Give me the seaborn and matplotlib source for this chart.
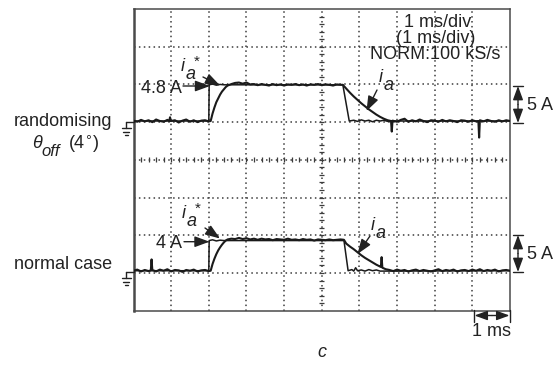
import numpy as np
import pandas as pd
import matplotlib
matplotlib.use("Agg")
import matplotlib.pyplot as plt
from matplotlib.lines import Line2D
import seaborn as sns

W, H = 558, 367

# ---- scope settings ----
AMPS_PER_DIV = 5.0
CH1_ZERO = 5.03      # vertical position of the upper channel's 0 A (divisions)
CH2_ZERO = 1.06      # vertical position of the lower channel's 0 A (divisions)

# ---- upper channel: randomising theta_off (time ms, current A) ----
ch1_ref = [(0.00, 0.00), (2.00, 0.00), (2.01, 4.80), (2.10, 4.90), (2.20, 4.75),
           (2.30, 4.85), (2.40, 4.80), (5.56, 4.80), (5.73, 0.00), (5.85, 0.10),
           (5.95, -0.05), (6.05, 0.15), (6.15, 0.00), (6.25, 0.10), (6.35, -0.10),
           (6.45, 0.10), (6.55, 0.00), (6.65, 0.10), (6.75, -0.05), (6.85, 0.00),
           (10.00, 0.00)]
ch1_ia = [(0.00, 0.05), (0.10, -0.10), (0.20, 0.15), (0.30, -0.05), (0.40, 0.10),
          (0.50, -0.15), (0.60, 0.20), (0.70, 0.00), (0.80, -0.10), (0.90, 0.15),
          (0.95, 0.00), (0.97, 0.50), (0.99, 0.00), (1.10, 0.10), (1.20, -0.20),
          (1.30, 0.05), (1.40, 0.20), (1.50, -0.10), (1.60, 0.10), (1.70, -0.15),
          (1.80, 0.05), (1.90, 0.10), (2.00, -0.05), (2.05, 0.00),
          (2.10, 1.00), (2.15, 1.80), (2.20, 2.50), (2.25, 3.00), (2.30, 3.50),
          (2.35, 3.90), (2.40, 4.20), (2.45, 4.50), (2.50, 4.70), (2.60, 4.90),
          (2.70, 5.05), (2.80, 5.10), (2.90, 4.95), (3.00, 5.10), (3.10, 4.85),
          (3.20, 4.90), (3.30, 4.75), (3.40, 4.90), (3.50, 4.80), (3.60, 4.70),
          (3.70, 4.90), (3.80, 4.75), (3.90, 4.85), (4.00, 4.70), (4.10, 4.85),
          (4.20, 4.80), (4.30, 4.90), (4.40, 4.75), (4.50, 4.85), (4.60, 4.70),
          (4.70, 4.85), (4.80, 4.80), (4.90, 4.90), (5.00, 4.75), (5.10, 4.85),
          (5.20, 4.80), (5.30, 4.70), (5.40, 4.85), (5.50, 4.80), (5.56, 4.80),
          (5.65, 4.30), (5.75, 3.75), (5.85, 3.25), (5.95, 2.80), (6.05, 2.35),
          (6.15, 1.95), (6.25, 1.55), (6.35, 1.20), (6.45, 0.85), (6.55, 0.55),
          (6.65, 0.30), (6.75, 0.10), (6.84, 0.00), (6.86, -1.40), (6.88, 0.05),
          (7.00, -0.10), (7.10, 0.15), (7.20, 0.30), (7.30, -0.10), (7.40, 0.10),
          (7.50, -0.05), (7.60, 0.20), (7.70, 0.00), (7.80, -0.15), (7.90, 0.10),
          (8.00, 0.05), (8.10, -0.10), (8.20, 0.15), (8.30, -0.05), (8.40, 0.10),
          (8.50, 0.00), (8.60, -0.15), (8.70, 0.10), (8.80, 0.05), (8.90, -0.10),
          (9.00, 0.10), (9.10, -0.05), (9.16, 0.00), (9.18, -2.20), (9.20, 0.10),
          (9.30, -0.05), (9.40, 0.15), (9.50, 0.00), (9.60, -0.10), (9.70, 0.10),
          (9.80, -0.05), (9.90, 0.10), (10.00, 0.00)]

# ---- lower channel: normal case ----
ch2_ref = [(0.00, 0.00), (2.00, 0.00), (2.01, 4.00), (2.10, 4.10), (2.20, 3.95),
           (2.30, 4.05), (2.40, 4.00), (5.59, 4.00), (5.70, 0.00), (5.80, 0.15),
           (5.85, -0.05), (5.90, 0.40), (5.95, 0.00), (6.05, 0.10), (6.15, -0.05),
           (6.25, 0.15), (6.35, 0.00), (6.45, 0.10), (6.55, -0.05), (10.00, 0.00)]
ch2_ia = [(0.00, 0.00), (0.10, 0.15), (0.20, -0.10), (0.30, 0.10), (0.40, -0.05),
          (0.46, 0.05), (0.48, 1.50), (0.50, 0.10), (0.60, -0.10), (0.70, 0.15),
          (0.80, 0.00), (0.90, 0.20), (1.00, -0.10), (1.10, 0.10), (1.20, 0.05),
          (1.30, -0.15), (1.40, 0.10), (1.50, 0.00), (1.60, 0.15), (1.70, -0.10),
          (1.80, 0.05), (1.90, 0.10), (2.00, -0.05), (2.05, 0.00),
          (2.10, 0.90), (2.15, 1.60), (2.20, 2.20), (2.25, 2.70), (2.30, 3.10),
          (2.35, 3.45), (2.40, 3.75), (2.45, 4.00), (2.50, 4.15), (2.60, 4.25),
          (2.70, 4.20), (2.80, 4.35), (2.90, 4.20), (3.00, 4.30), (3.10, 4.15),
          (3.20, 4.25), (3.30, 4.10), (3.40, 4.25), (3.50, 4.15), (3.60, 4.20),
          (3.70, 4.05), (3.80, 4.20), (3.90, 4.15), (4.00, 4.10), (4.10, 4.25),
          (4.20, 4.10), (4.30, 4.15), (4.40, 4.05), (4.50, 4.20), (4.60, 4.10),
          (4.70, 4.15), (4.80, 4.00), (4.90, 4.15), (5.00, 4.10), (5.10, 4.05),
          (5.20, 4.15), (5.30, 4.05), (5.40, 4.10), (5.50, 4.15), (5.59, 4.10),
          (5.65, 3.60), (5.75, 3.20), (5.85, 2.85), (5.95, 2.45), (6.05, 2.05),
          (6.15, 1.70), (6.25, 1.40), (6.35, 1.10), (6.45, 0.80), (6.55, 0.55),
          (6.57, 0.50), (6.59, 1.80), (6.61, 0.40), (6.70, 0.20), (6.80, 0.10),
          (6.90, -0.05), (7.00, 0.15), (7.10, 0.00), (7.20, 0.10), (7.30, -0.10),
          (7.40, 0.05), (7.50, 0.15), (7.60, -0.05), (7.70, 0.10), (7.80, 0.00),
          (7.90, -0.10), (8.00, 0.05), (8.10, 0.20), (8.20, -0.05), (8.30, 0.10),
          (8.40, 0.00), (8.50, 0.15), (8.60, -0.10), (8.70, 0.05), (8.80, 0.10),
          (8.90, -0.05), (9.00, 0.15), (9.10, 0.00), (9.20, 0.20), (9.30, -0.05),
          (9.40, 0.10), (9.50, 0.00), (9.60, 0.15), (9.70, -0.10), (9.80, 0.05),
          (9.90, 0.10), (10.00, 0.00)]

# ---- labels ----
row_labels = ["randomising", "normal case"]
level_labels = ["4.8 A", "4 A"]
timebase_lines = ["1 ms/div", "(1 ms/div)", "NORM:100 kS/s"]
scale_label = "5 A"
time_label = "1 ms"
panel_label = "c"

sns.set_theme(style="white")
plt.rcParams["font.family"] = ["Liberation Sans", "DejaVu Sans"]

INK = "#1a1a1a"
TXT = "#222222"
GRID = "#3c3c3c"

fig = plt.figure(figsize=(W / 100, H / 100), dpi=100)
L, R, T, B = 133.5, 510.0, 9.0, 310.7
ax = fig.add_axes([L / W, 1 - B / H, (R - L) / W, (B - T) / H])
ax.set_xlim(0, 10)
ax.set_ylim(0, 8)
ax.set_xticks([])
ax.set_yticks([])
ax.set_facecolor("white")
for side, sp in ax.spines.items():
    sp.set_visible(True)
    sp.set_color("#4a4a4a")
    sp.set_linewidth(1.8 if side == "left" else 1.1)

# graticule
dots = (0, (1.0, 2.2))
for gx in range(1, 10):
    ax.axvline(gx, color=GRID, lw=1.1, ls=dots, zorder=1)
for gy in range(1, 8):
    ax.axhline(gy, color=GRID, lw=1.1, ls=dots, zorder=1)
ax.hlines(np.arange(0.2, 8.0, 0.2), 5 - 0.07, 5 + 0.07, color=GRID, lw=0.9, zorder=1)
ax.vlines(np.arange(0.2, 10.0, 0.2), 4 - 0.07, 4 + 0.07, color=GRID, lw=0.9, zorder=1)


def trace_frame(pairs, zero, name):
    df = pd.DataFrame(pairs, columns=["t_ms", "amps"])
    df["div"] = zero + df["amps"] / AMPS_PER_DIV
    df["trace"] = name
    return df


traces = [
    (trace_frame(ch1_ref, CH1_ZERO, "ch1 ia*"), 1.1),
    (trace_frame(ch1_ia, CH1_ZERO, "ch1 ia"), 1.5),
    (trace_frame(ch2_ref, CH2_ZERO, "ch2 ia*"), 1.1),
    (trace_frame(ch2_ia, CH2_ZERO, "ch2 ia"), 1.5),
]
for df, lw in traces:
    sns.lineplot(data=df, x="t_ms", y="div", estimator=None, sort=False,
                 color=INK, lw=lw, ax=ax, legend=False, zorder=3)
ax.set_xlabel("")
ax.set_ylabel("")


def P(x, y):
    return (x / W, 1 - y / H)


def text(x, y, s, **kw):
    kw.setdefault("color", TXT)
    kw.setdefault("fontsize", 13)
    kw.setdefault("ha", "left")
    kw.setdefault("va", "baseline")
    fig.text(x / W, 1 - y / H, s, **kw)


def arrow(x0, y0, x1, y1, style="-|>,head_length=0.6,head_width=0.22", ms=15):
    ax.annotate("", xy=P(x1, y1), xycoords="figure fraction",
                xytext=P(x0, y0), textcoords="figure fraction",
                arrowprops=dict(arrowstyle=style, color=TXT, lw=1.0,
                                mutation_scale=ms, shrinkA=0, shrinkB=0))


def seg(x0, y0, x1, y1, lw=1.0):
    fig.add_artist(Line2D([x0 / W, x1 / W], [1 - y0 / H, 1 - y1 / H],
                          transform=fig.transFigure, color=TXT, lw=lw))


def ground(ytop):
    seg(126, ytop, L, ytop)
    seg(126, ytop, 126, ytop + 6)
    seg(121.5, ytop + 6, 130.5, ytop + 6)
    seg(123, ytop + 9.5, 129, ytop + 9.5)
    seg(124.5, ytop + 13, 127.5, ytop + 13)


def current_label(x, y, star):
    # italic i with a near full-size subscript a, optional superscript *
    text(x, y, "i", style="italic")
    text(x + 5.5, y + 8, "a", style="italic")
    if star:
        text(x + 13.5, y - 5, "*", fontsize=11)


ground(122)
ground(272)

# timebase readout
text(437.5, 26.7, timebase_lines[0], ha="center")
text(436, 43, timebase_lines[1], ha="center")
text(435, 59.3, timebase_lines[2], ha="center")

# upper channel annotations
text(182, 93, level_labels[0], ha="right")
arrow(183, 86, 210, 86)
current_label(180.5, 71, True)
arrow(203, 77, 220, 85.5)
current_label(378.5, 82, False)
arrow(377, 90, 366.5, 111)

# lower channel annotations
text(182, 248.3, level_labels[1], ha="right")
arrow(184, 241.7, 209.5, 241.7)
current_label(181.5, 218, True)
arrow(205, 228, 220, 238.5)
current_label(370.5, 230, False)
arrow(370, 236, 357.5, 254)

# 5 A scale bars
for ytop, ybot, ylab in [(86, 123, 110), (235, 272, 259)]:
    seg(513, ytop, 523, ytop)
    seg(513, ybot, 523, ybot)
    arrow(518, (ytop + ybot) / 2, 518, ytop, ms=14)
    arrow(518, (ytop + ybot) / 2, 518, ybot, ms=14)
    text(527, ylab, scale_label)

# 1 ms time marker
seg(474, 310, 474, 322)
seg(510, 310, 510, 322)
arrow(492, 315.5, 474.5, 315.5, ms=13)
arrow(492, 315.5, 509.5, 315.5, ms=13)
text(492, 336, time_label, ha="center")

# row labels
text(63, 126, row_labels[0], ha="center")
text(32, 148, "\u03b8", style="italic")
text(41.5, 156, "off", style="italic", fontsize=12)
text(67.5, 149, r"(4$^{\circ}$)")
text(63, 269, row_labels[1], ha="center")

text(322, 357, panel_label, style="italic", ha="center")

fig.savefig("out.png", dpi=100, facecolor="white")
